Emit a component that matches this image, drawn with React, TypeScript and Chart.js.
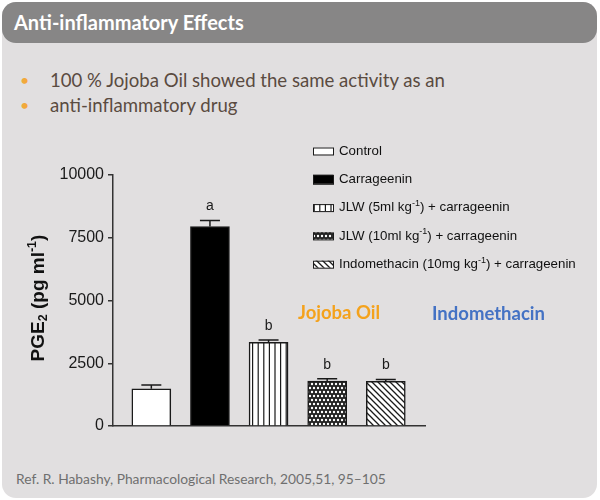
import React, { useEffect, useRef } from 'react';
import { Chart, registerables } from 'chart.js';

Chart.register(...registerables);

// ---- data ----
const categories = ['Control', 'Carrageenin', 'JLW 5', 'JLW 10', 'Indomethacin'];
const pgeValues = [1480, 7950, 3330, 1790, 1780];
const pgeErrors = [150, 240, 100, 90, 70];
const sigLetters = ['', 'a', 'b', 'b', 'b'];
const yTicks = [0, 2500, 5000, 7500, 10000];
const legendMain = ['Control', 'Carrageenin', 'JLW (5ml kg', 'JLW (10ml kg', 'Indomethacin (10mg kg'];
const legendSup = ['', '', '-1', '-1', '-1'];
const legendRest = ['', '', ') + carrageenin', ') + carrageenin', ') + carrageenin'];
const titleText = 'Anti-inflammatory Effects';
const bullets = ['100 % Jojoba Oil showed the same activity as an', 'anti-inflammatory drug'];
const refText = 'Ref. R. Habashy, Pharmacological Research, 2005,51, 95\u2013105';

const AXIS_FONT = '"Liberation Sans", Arial, sans-serif';
const SLIDE_FONT = 'Lato, "Open Sans", sans-serif';

function makePattern(kind: string): CanvasPattern | string {
  const c = document.createElement('canvas');
  const ink = '#1a1a1a';
  if (kind === 'vlines') {
    c.width = 28; c.height = 4;
    const g = c.getContext('2d')!;
    g.fillStyle = '#ffffff'; g.fillRect(0, 0, 28, 4);
    g.fillStyle = ink;
    for (let i = 0; i < 5; i++) g.fillRect(i * 5.6, 0, 1.2, 4);
  } else if (kind === 'dots') {
    c.width = 8; c.height = 8;
    const g = c.getContext('2d')!;
    g.fillStyle = '#222222'; g.fillRect(0, 0, 8, 8);
    g.fillStyle = '#ffffff';
    const pts = [[2, 2], [6, 2], [0, 6], [4, 6], [8, 6], [-2, 2], [10, 2]];
    for (const [px, py] of pts) { g.beginPath(); g.arc(px, py, 1.2, 0, Math.PI * 2); g.fill(); }
  } else {
    c.width = 6; c.height = 6;
    const g = c.getContext('2d')!;
    g.fillStyle = '#ffffff'; g.fillRect(0, 0, 6, 6);
    g.strokeStyle = ink; g.lineWidth = 1.3;
    g.beginPath();
    g.moveTo(-1, -1); g.lineTo(7, 7);
    g.moveTo(-1, 5); g.lineTo(1, 7);
    g.moveTo(5, -1); g.lineTo(7, 1);
    g.stroke();
  }
  const ctx = document.createElement('canvas').getContext('2d')!;
  return ctx.createPattern(c, 'repeat') || '#888';
}

export default function App() {
  const ref = useRef<HTMLCanvasElement | null>(null);

  useEffect(() => {
    const canvas = ref.current;
    if (!canvas) return;
    const fills: any[] = ['#ffffff', '#000000', makePattern('vlines'), makePattern('dots'), makePattern('diag')];

    const overlay = {
      id: 'overlay',
      afterDatasetsDraw(chart: any) {
        const ctx = chart.ctx as CanvasRenderingContext2D;
        const meta = chart.getDatasetMeta(0);
        const ys = chart.scales.y;
        ctx.save();
        ctx.strokeStyle = '#1a1a1a';
        ctx.lineWidth = 1.5;
        meta.data.forEach((el: any, i: number) => {
          const top = ys.getPixelForValue(pgeValues[i] + pgeErrors[i]);
          ctx.beginPath();
          ctx.moveTo(el.x, el.y);
          ctx.lineTo(el.x, top);
          ctx.moveTo(el.x - 10, top);
          ctx.lineTo(el.x + 10, top);
          ctx.stroke();
          if (sigLetters[i]) {
            ctx.fillStyle = '#1a1a1a';
            ctx.font = `14px ${AXIS_FONT}`;
            ctx.textAlign = 'center';
            ctx.textBaseline = 'middle';
            ctx.fillText(sigLetters[i], el.x, top - 14);
          }
        });

        // legend
        const lx = 313, tx = 339, y0 = 21, gap = 28.3;
        legendMain.forEach((m, i) => {
          const cy = y0 + i * gap;
          const h = i === 1 ? 9 : 7;
          ctx.fillStyle = fills[i];
          ctx.fillRect(lx, cy - h / 2, 20, h);
          ctx.lineWidth = 1;
          ctx.strokeStyle = '#1a1a1a';
          ctx.strokeRect(lx + 0.5, cy - h / 2 + 0.5, 20, h);
          ctx.fillStyle = '#111';
          ctx.textAlign = 'left';
          ctx.textBaseline = 'middle';
          ctx.font = `13.3px ${AXIS_FONT}`;
          let x = tx;
          ctx.fillText(m, x, cy);
          x += ctx.measureText(m).width;
          if (legendSup[i]) {
            ctx.font = `9px ${AXIS_FONT}`;
            ctx.fillText(legendSup[i], x, cy - 4);
            x += ctx.measureText(legendSup[i]).width;
            ctx.font = `13.3px ${AXIS_FONT}`;
            ctx.fillText(legendRest[i], x, cy);
          }
        });

        // y axis title
        ctx.translate(39, 168);
        ctx.rotate(-Math.PI / 2);
        ctx.fillStyle = '#111';
        ctx.textBaseline = 'middle';
        ctx.textAlign = 'left';
        const big = `bold 19px ${AXIS_FONT}`, small = `bold 12.5px ${AXIS_FONT}`;
        const parts: [string, string, number][] = [['PGE', big, 0], ['2', small, 5], [' (pg ml', big, 0], ['-1', small, -6], [')', big, 0]];
        let total = 0;
        for (const [t, f] of parts) { ctx.font = f; total += ctx.measureText(t).width; }
        let x = -total / 2;
        for (const [t, f, dy] of parts) { ctx.font = f; ctx.fillText(t, x, dy); x += ctx.measureText(t).width; }
        ctx.restore();
      },
    };

    const chart = new Chart(canvas, {
      type: 'bar',
      data: {
        labels: categories,
        datasets: [{
          data: pgeValues.map((v, i) => ({ x: i, y: v })) as any,
          backgroundColor: fills,
          borderColor: '#1a1a1a',
          borderWidth: 1.5,
          barThickness: 39,
        }],
      },
      options: {
        responsive: false,
        animation: false,
        layout: { padding: { left: 0, top: 45, right: 175, bottom: 0 } },
        plugins: { legend: { display: false }, tooltip: { enabled: false } },
        scales: {
          x: {
            type: 'linear', min: -0.654, max: 4.669,
            offset: false,
            ticks: { display: false },
            grid: { display: false },
            border: { display: true, color: '#333', width: 1.5 },
            afterFit: (s: any) => { s.height = 24; },
          },
          y: {
            min: 0, max: 10000,
            afterBuildTicks: (s: any) => { s.ticks = yTicks.map((v) => ({ value: v })); },
            ticks: { font: { family: AXIS_FONT, size: 16 }, color: '#1a1a1a', padding: 4, callback: (v: any) => String(v) },
            grid: { drawOnChartArea: false, tickLength: 5, color: '#333', lineWidth: 1.5 },
            border: { color: '#333', width: 1.5 },
            afterFit: (s: any) => { s.width = 113; },
          },
        },
      } as any,
      plugins: [overlay],
    });
    return () => chart.destroy();
  }, []);

  return (
    <div style={{ position: 'fixed', left: 0, top: 0, width: 600, height: 500, background: '#ffffff', overflow: 'hidden' }}>
      <div style={{ position: 'absolute', left: 2, top: 2, width: 595, height: 496, background: '#e1dfe0', borderRadius: 14 }} />
      <div style={{ position: 'absolute', left: 2, top: 2, width: 595, height: 41, background: '#878686', borderRadius: 14 }} />
      <div style={{ position: 'absolute', left: 14, top: 2, height: 41, lineHeight: '41px', color: '#ffffff', fontFamily: SLIDE_FONT, fontWeight: 700, fontSize: 20, whiteSpace: 'nowrap' }}>{titleText}</div>
      {bullets.map((b, i) => (
        <div key={i} style={{ position: 'absolute', left: 0, top: 67 + i * 25, height: 26, lineHeight: '26px', fontFamily: SLIDE_FONT, fontSize: 18.6, color: '#5a4b41', whiteSpace: 'nowrap' }}>
          <span style={{ position: 'absolute', left: 20, color: '#f2a93b', fontSize: 16 }}>{'\u2022'}</span>
          <span style={{ position: 'absolute', left: 50 }}>{b}</span>
        </div>
      ))}
      <canvas ref={ref} width={600} height={320} style={{ position: 'absolute', left: 0, top: 130, width: 600, height: 320 }} />
      <div style={{ position: 'absolute', left: 298, top: 300, lineHeight: '24px', fontFamily: SLIDE_FONT, fontWeight: 700, fontSize: 18.5, color: '#f4a21c', whiteSpace: 'nowrap' }}>Jojoba Oil</div>
      <div style={{ position: 'absolute', left: 432, top: 301, lineHeight: '24px', fontFamily: SLIDE_FONT, fontWeight: 700, fontSize: 18.5, color: '#4472c4', whiteSpace: 'nowrap' }}>Indomethacin</div>
      <div style={{ position: 'absolute', left: 16, top: 467, lineHeight: '24px', fontFamily: SLIDE_FONT, fontSize: 13.8, color: '#6f6f6f', whiteSpace: 'nowrap' }}>{refText}</div>
    </div>
  );
}
